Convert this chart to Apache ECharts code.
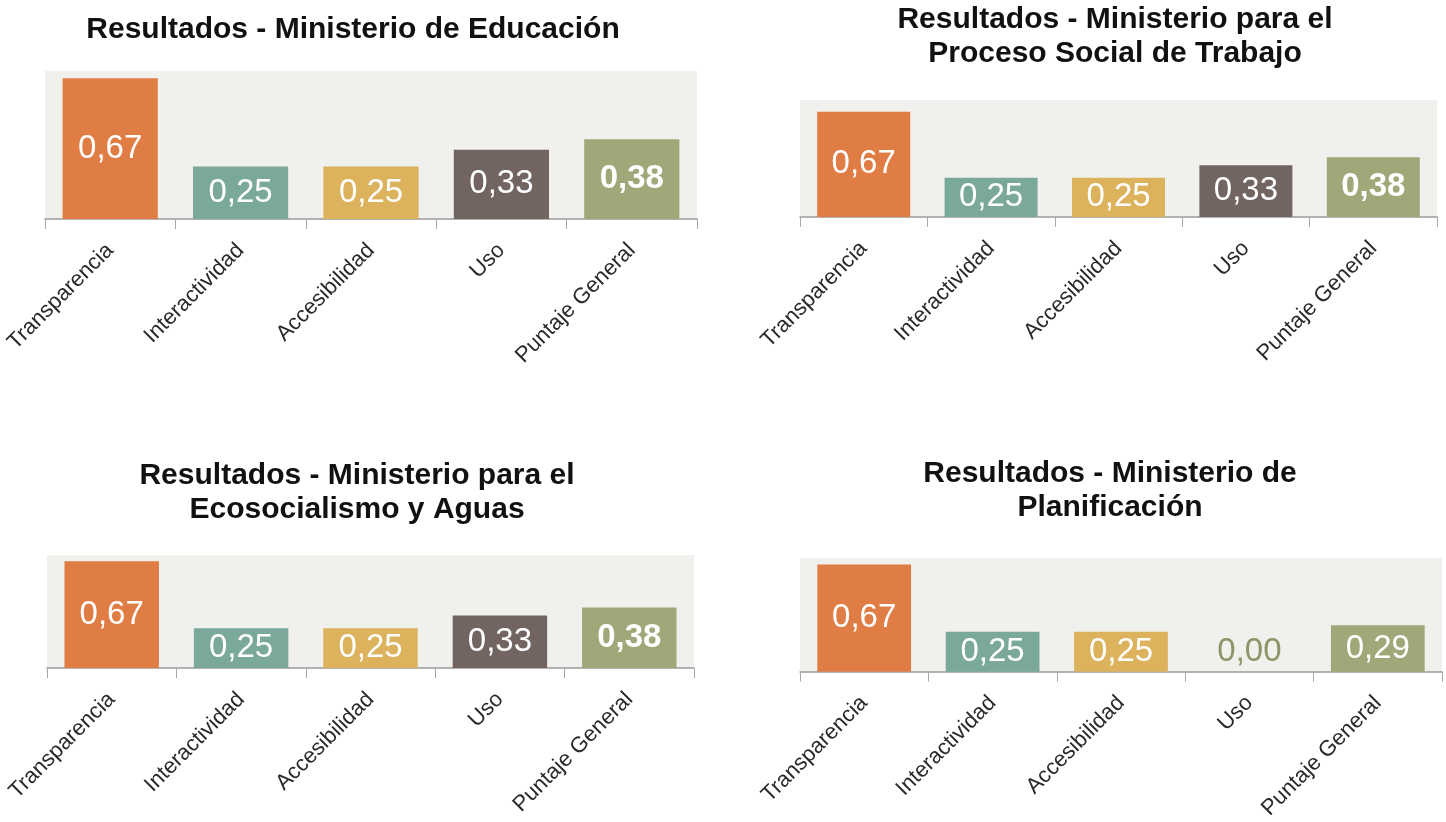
<!DOCTYPE html>
<html>
<head>
<meta charset="utf-8">
<script src="https://cdn.jsdelivr.net/npm/echarts@6/dist/echarts.min.js"></script>
<style>
  html, body { margin: 0; padding: 0; background: #fff; }
  #chart { width: 1446px; height: 822px; }
</style>
</head>
<body>
<div id="chart"></div>
<script>
// categorias comunes
const categories = ['Transparencia', 'Interactividad', 'Accesibilidad', 'Uso', 'Puntaje General'];

// valores de cada ministerio
const educacion = [0.67, 0.25, 0.25, 0.33, 0.38];
const trabajo = [0.67, 0.25, 0.25, 0.33, 0.38];
const ecosocialismo = [0.67, 0.25, 0.25, 0.33, 0.38];
const planificacion = [0.67, 0.25, 0.25, 0.00, 0.29];

const titles = [
  'Resultados - Ministerio de Educación',
  'Resultados - Ministerio para el\nProceso Social de Trabajo',
  'Resultados - Ministerio para el\nEcosocialismo y Aguas',
  'Resultados - Ministerio de\nPlanificación'
];

const barColors = ['#df7d45', '#7aa89a', '#dcb25c', '#726460', '#a1a779'];
const FONT = '"Liberation Sans", Arial, sans-serif';

// posicion de cada panel
const panels = [
  {data: educacion, grid: {left: 45, top: 71, width: 652, height: 148}, max: 0.705, title: {x: 353, y: 13}, boldLast: true},
  {data: trabajo, grid: {left: 800, top: 100, width: 637, height: 117}, max: 0.745, title: {x: 1115, y: 3}, boldLast: true},
  {data: ecosocialismo, grid: {left: 47, top: 555, width: 647, height: 113}, max: 0.71, title: {x: 357, y: 459}, boldLast: true},
  {data: planificacion, grid: {left: 800, top: 558, width: 642, height: 114}, max: 0.71, title: {x: 1110, y: 457}, boldLast: false}
];

const fmt = v => v.toFixed(2).replace('.', ',');

const chart = echarts.init(document.getElementById('chart'));

const option = {
  backgroundColor: '#ffffff',
  animation: false,
  title: panels.map((p, i) => ({
    text: titles[i],
    left: p.title.x,
    top: p.title.y,
    padding: 0,
    textAlign: 'center',
    textStyle: {fontFamily: FONT, fontSize: 30, fontWeight: 'bold', color: '#111', lineHeight: 34}
  })),
  grid: panels.map(p => Object.assign({show: true, backgroundColor: '#f0f0ec', borderWidth: 0}, p.grid)),
  xAxis: panels.map((p, i) => ({
    type: 'category',
    gridIndex: i,
    data: categories,
    axisLine: {lineStyle: {color: '#9a9a9a', width: 1.5}},
    axisTick: {show: true, length: 10, lineStyle: {color: '#a8a8a8'}},
    axisLabel: {interval: 0, rotate: 45, margin: 28, color: '#2a2a2a', fontSize: 22, fontFamily: FONT}
  })),
  yAxis: panels.map((p, i) => ({
    type: 'value', gridIndex: i, min: 0, max: p.max, show: false
  })),
  series: panels.map((p, i) => ({
    type: 'bar',
    xAxisIndex: i,
    yAxisIndex: i,
    barCategoryGap: '27%',
    data: p.data.map((v, j) => {
      const item = {value: v, itemStyle: {color: barColors[j]}};
      if (j === categories.length - 1 && p.boldLast) item.label = {fontWeight: 'bold'};
      if (v === 0) item.label = {position: 'top', distance: 3, color: '#8e9467'};
      return item;
    }),
    label: {
      show: true,
      position: 'inside',
      color: '#ffffff',
      fontSize: 33,
      fontFamily: FONT,
      formatter: d => fmt(d.value)
    }
  }))
};

chart.setOption(option);
</script>
</body>
</html>
